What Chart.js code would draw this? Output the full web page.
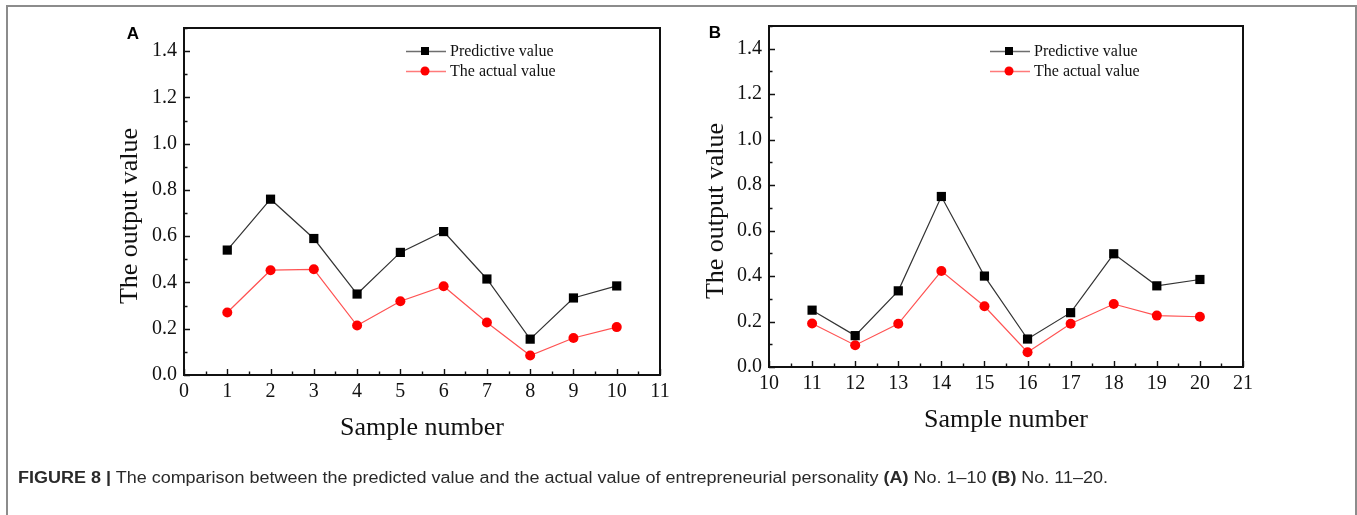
<!DOCTYPE html>
<html>
<head>
<meta charset="utf-8">
<script src="https://cdn.jsdelivr.net/npm/chart.js@4.4.1/dist/chart.umd.min.js"></script>
<style>
  html, body { margin: 0; padding: 0; background: #fff; }
  body { width: 1357px; height: 515px; position: relative; overflow: hidden; }
  canvas { position: absolute; left: 0; top: 0; }
  #frame {
    position: absolute; left: 6px; top: 5px; width: 1351px; height: 600px;
    border: 2px solid #8c8c8c; border-bottom: none; box-sizing: border-box;
  }
  #caption {
    position: absolute; left: 18px; top: 469px;
    font-family: "Liberation Sans", Arial, sans-serif; font-size: 16px; color: #2a2a2a;
    white-space: nowrap; transform-origin: 0 0;
  }
</style>
</head>
<body>
<div id="frame"></div>
<canvas id="chartA" width="1357" height="515"></canvas>
<canvas id="chartB" width="1357" height="515"></canvas>
<div id="caption"><b>FIGURE 8 |</b> The comparison between the predicted value and the actual value of entrepreneurial personality <b>(A)</b> No. 1–10 <b>(B)</b> No. 11–20.</div>

<script>
// Sample numbers and model outputs, panel A (No. 1–10)
const samplesA   = [1, 2, 3, 4, 5, 6, 7, 8, 9, 10];
const predictedA = [0.54, 0.76, 0.59, 0.35, 0.53, 0.62, 0.415, 0.155, 0.333, 0.385];
const actualA    = [0.27, 0.453, 0.457, 0.214, 0.319, 0.384, 0.227, 0.084, 0.16, 0.207];

// Sample numbers and model outputs, panel B (No. 11–20)
const samplesB   = [11, 12, 13, 14, 15, 16, 17, 18, 19, 20];
const predictedB = [0.25, 0.138, 0.335, 0.75, 0.4, 0.123, 0.239, 0.498, 0.357, 0.385];
const actualB    = [0.191, 0.096, 0.19, 0.422, 0.267, 0.065, 0.19, 0.277, 0.226, 0.221];

// Tick labels
const yTicks  = [0, 0.2, 0.4, 0.6, 0.8, 1.0, 1.2, 1.4];
const xTicksA = [0, 1, 2, 3, 4, 5, 6, 7, 8, 9, 10, 11];
const xTicksB = [10, 11, 12, 13, 14, 15, 16, 17, 18, 19, 20, 21];

const seriesNames = ['Predictive value', 'The actual value'];
const xTitle = 'Sample number';
const yTitle = 'The output value';

const SERIF = '"Liberation Serif", "Times New Roman", serif';
const SANS  = '"Liberation Sans", Arial, sans-serif';
const W = 1357, H = 515;

// Frame, inward ticks, axis titles, panel letter and legend for one panel
function decor(cfg) {
  return {
    id: 'decor' + cfg.letter,
    afterDraw(chart) {
      const ctx = chart.ctx;
      const a = chart.chartArea;
      const xs = chart.scales.x, ys = chart.scales.y;
      ctx.save();
      ctx.strokeStyle = '#111';
      ctx.lineWidth = 2;
      ctx.strokeRect(a.left, a.top, a.right - a.left, a.bottom - a.top);

      ctx.lineWidth = 1.4;
      ctx.beginPath();
      const xt = cfg.xTicks;
      xt.forEach((v, i) => {
        const px = Math.round(xs.getPixelForValue(v)) + 0.5;
        ctx.moveTo(px, a.bottom); ctx.lineTo(px, a.bottom - 6);
        if (i < xt.length - 1) {
          const pm = Math.round(xs.getPixelForValue(v + 0.5)) + 0.5;
          ctx.moveTo(pm, a.bottom); ctx.lineTo(pm, a.bottom - 3.5);
        }
      });
      yTicks.forEach(v => {
        const py = Math.round(ys.getPixelForValue(v)) + 0.5;
        ctx.moveTo(a.left, py); ctx.lineTo(a.left + 6, py);
        const pm = Math.round(ys.getPixelForValue(v + 0.1)) + 0.5;
        ctx.moveTo(a.left, pm); ctx.lineTo(a.left + 3.5, pm);
      });
      ctx.stroke();

      // axis titles
      ctx.fillStyle = '#111';
      ctx.font = '26px ' + SERIF;
      ctx.textAlign = 'center';
      ctx.textBaseline = 'middle';
      ctx.fillText(xTitle, (a.left + a.right) / 2, cfg.xTitleY);
      ctx.save();
      ctx.translate(cfg.yTitleX, cfg.yTitleY);
      ctx.rotate(-Math.PI / 2);
      ctx.fillText(yTitle, 0, 0);
      ctx.restore();

      // panel letter
      ctx.font = 'bold 17px ' + SANS;
      ctx.fillStyle = '#000';
      ctx.fillText(cfg.letter, cfg.letterX, cfg.letterY);

      // legend
      const lg = cfg.legend;
      const rows = [
        { line: '#6e6e6e', fill: '#000', shape: 'rect' },
        { line: '#ff7a7a', fill: '#ff0000', shape: 'circle' }
      ];
      rows.forEach((r, i) => {
        const y = lg.y + i * 20;
        ctx.strokeStyle = r.line;
        ctx.lineWidth = 1.3;
        ctx.beginPath();
        ctx.moveTo(lg.x, y + 0.5); ctx.lineTo(lg.x + 40, y + 0.5);
        ctx.stroke();
        ctx.fillStyle = r.fill;
        const mx = lg.x + 19;
        if (r.shape === 'rect') {
          ctx.fillRect(mx - 4, y - 4, 8, 8);
        } else {
          ctx.beginPath(); ctx.arc(mx, y, 4.5, 0, Math.PI * 2); ctx.fill();
        }
        ctx.fillStyle = '#111';
        ctx.font = '16px ' + SERIF;
        ctx.textAlign = 'left';
        ctx.fillText(seriesNames[i], lg.x + 44, y + 1);
      });
      ctx.restore();
    }
  };
}

function makeChart(canvasId, samples, predicted, actual, xTicks, box, cfg) {
  const pad = {
    left: box.left - 60,
    right: W - box.right,
    top: box.top,
    bottom: H - box.bottom - 30
  };
  const tickFont = { family: SERIF, size: 20 };
  return new Chart(document.getElementById(canvasId), {
    type: 'line',
    data: {
      datasets: [
        {
          label: seriesNames[0],
          data: samples.map((s, i) => ({ x: s, y: predicted[i] })),
          borderColor: '#333', borderWidth: 1.2,
          pointStyle: 'rect', pointRadius: 6.5,
          pointBackgroundColor: '#000', pointBorderColor: '#000', pointBorderWidth: 0,
          tension: 0
        },
        {
          label: seriesNames[1],
          data: samples.map((s, i) => ({ x: s, y: actual[i] })),
          borderColor: '#ff5252', borderWidth: 1.2,
          pointStyle: 'circle', pointRadius: 5,
          pointBackgroundColor: '#ff0000', pointBorderColor: '#ff0000', pointBorderWidth: 0,
          tension: 0
        }
      ]
    },
    options: {
      responsive: false,
      animation: false,
      events: [],
      devicePixelRatio: 1,
      layout: { padding: pad },
      plugins: { legend: { display: false }, tooltip: { enabled: false } },
      scales: {
        x: {
          type: 'linear', min: xTicks[0], max: xTicks[xTicks.length - 1],
          afterBuildTicks: s => { s.ticks = xTicks.map(v => ({ value: v })); },
          afterFit: s => { s.height = 30; },
          grid: { display: false, drawTicks: false },
          border: { display: false },
          ticks: {
            font: tickFont, color: '#111', padding: 5,
            maxRotation: 0, autoSkip: false,
            callback: v => String(v)
          }
        },
        y: {
          type: 'linear', min: 0, max: 1.5,
          afterBuildTicks: s => { s.ticks = yTicks.map(v => ({ value: v })); },
          afterFit: s => { s.width = 60; },
          grid: { display: false, drawTicks: false },
          border: { display: false },
          ticks: {
            font: tickFont, color: '#111', padding: 7,
            callback: v => Number(v).toFixed(1)
          }
        }
      }
    },
    plugins: [decor(Object.assign({ xTicks }, cfg))]
  });
}

function build() {
  makeChart('chartA', samplesA, predictedA, actualA, xTicksA,
    { left: 184, right: 660, top: 28, bottom: 375 },
    { letter: 'A', letterX: 133, letterY: 34, xTitleY: 428, yTitleX: 130, yTitleY: 216,
      legend: { x: 406, y: 51 } });
  makeChart('chartB', samplesB, predictedB, actualB, xTicksB,
    { left: 769, right: 1243, top: 26, bottom: 367 },
    { letter: 'B', letterX: 715, letterY: 33, xTitleY: 420, yTitleX: 716, yTitleY: 211,
      legend: { x: 990, y: 51 } });

  const cap = document.getElementById('caption');
  const w = cap.getBoundingClientRect().width;
  cap.style.transform = 'scaleX(' + (1090 / w).toFixed(4) + ')';
}

Promise.all([
  document.fonts.load('20px "Liberation Serif"'),
  document.fonts.load('bold 17px "Liberation Sans"'),
  document.fonts.load('16px "Liberation Sans"')
]).then(build, build);
</script>
</body>
</html>
